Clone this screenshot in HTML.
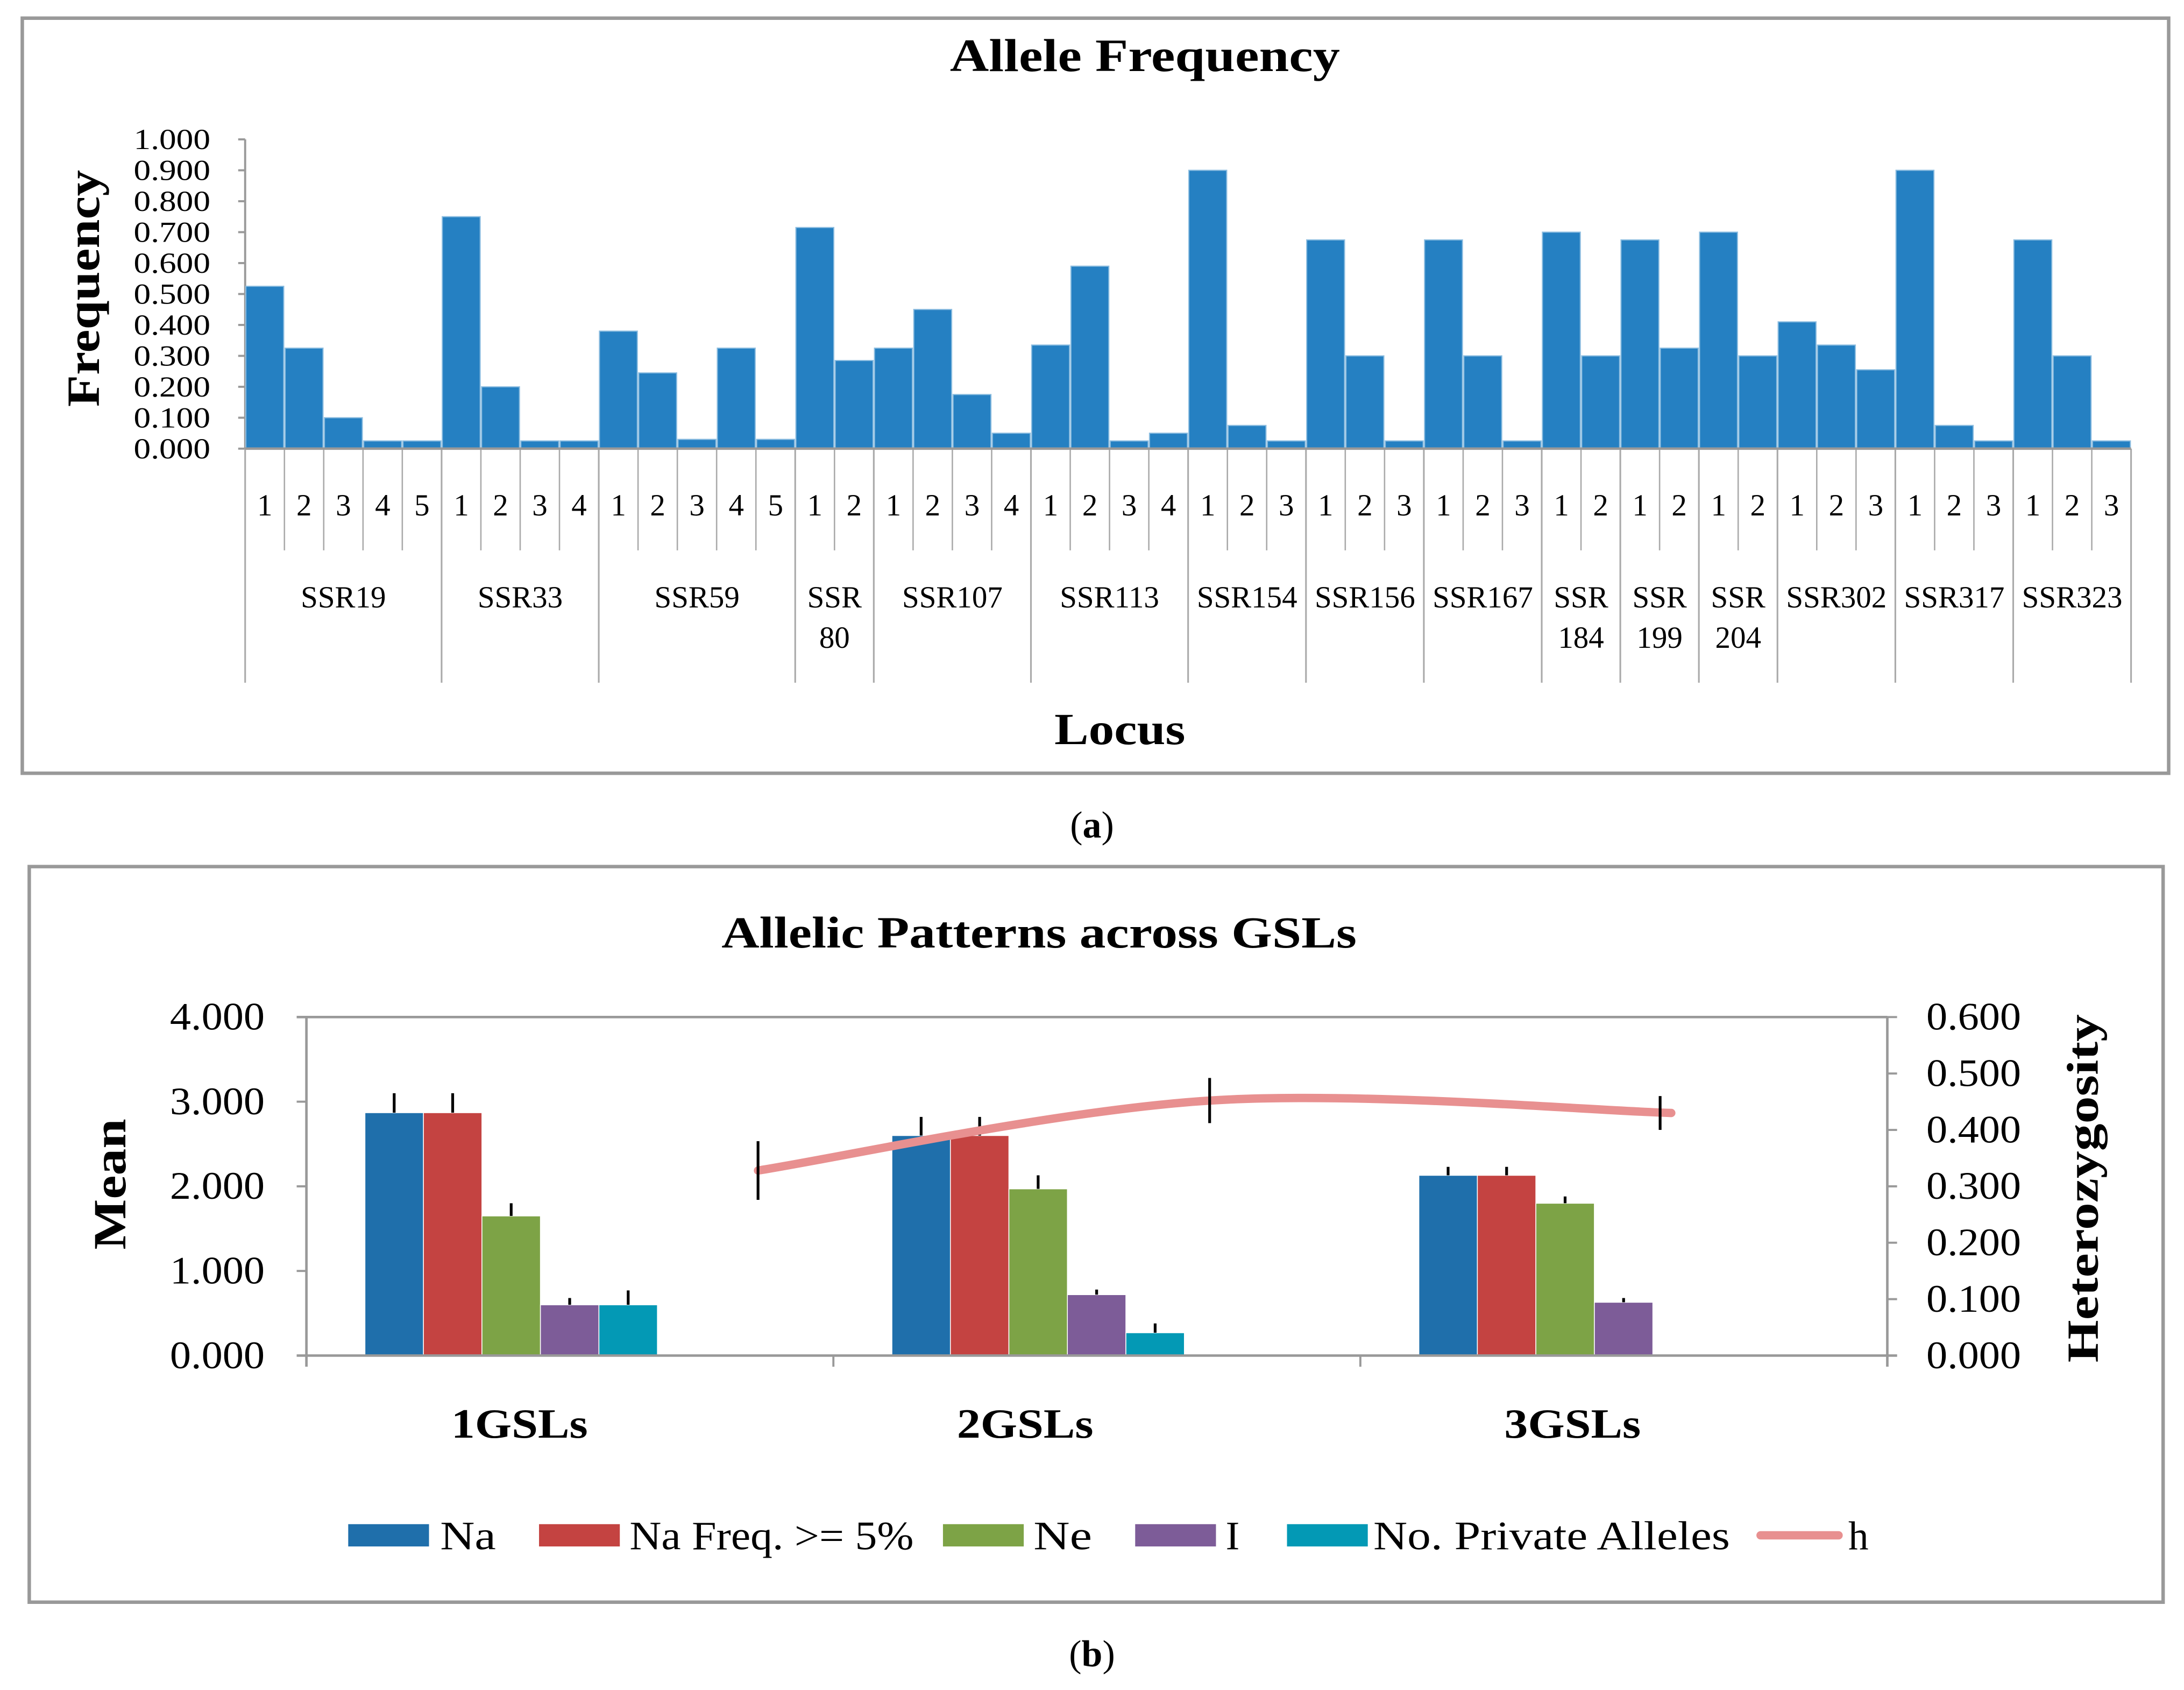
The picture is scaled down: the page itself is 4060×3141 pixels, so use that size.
<!DOCTYPE html>
<html><head><meta charset="utf-8"><style>
html,body{margin:0;padding:0;background:#fff}
svg{display:block;font-family:"Liberation Serif",serif}
</style></head><body>
<svg id="s" width="4060" height="3141" viewBox="0 0 1568 1213" xmlns="http://www.w3.org/2000/svg">
<rect x="16" y="13" width="1541" height="542" fill="#fff" stroke="#999" stroke-width="2.5"/>
<text x="822" y="51" font-size="33" font-weight="bold" text-anchor="middle" textLength="280" lengthAdjust="spacingAndGlyphs">Allele Frequency</text>
<text transform="translate(71,207) rotate(-90)" font-size="33" font-weight="bold" text-anchor="middle" textLength="170" lengthAdjust="spacingAndGlyphs">Frequency</text>
<text x="804" y="534" font-size="32" font-weight="bold" text-anchor="middle" textLength="94" lengthAdjust="spacingAndGlyphs">Locus</text>
<text x="784" y="601" font-size="27" text-anchor="middle">(<tspan font-weight="bold">a</tspan>)</text>
<g id="ga"></g>
<rect x="21" y="622" width="1532" height="528" fill="#fff" stroke="#999" stroke-width="2.5"/>
<text x="746" y="680" font-size="32" font-weight="bold" text-anchor="middle" textLength="456" lengthAdjust="spacingAndGlyphs">Allelic Patterns across GSLs</text>
<text transform="translate(90,850) rotate(-90)" font-size="33" font-weight="bold" text-anchor="middle" textLength="94" lengthAdjust="spacingAndGlyphs">Mean</text>
<text transform="translate(1506,853) rotate(-90)" font-size="32" font-weight="bold" text-anchor="middle" textLength="250" lengthAdjust="spacingAndGlyphs">Heterozygosity</text>
<text x="784" y="1196" font-size="27" text-anchor="middle">(<tspan font-weight="bold">b</tspan>)</text>
<g id="gb"></g>
</svg>
<script>
// ---- Chart A data ----
const lociA = ["SSR19","SSR33","SSR59","SSR80","SSR107","SSR113","SSR154","SSR156","SSR167","SSR184","SSR199","SSR204","SSR302","SSR317","SSR323"];
const freqA = [
 [0.525,0.325,0.100,0.025,0.025],
 [0.750,0.200,0.025,0.025],
 [0.380,0.245,0.030,0.325,0.030],
 [0.715,0.285],
 [0.325,0.450,0.175,0.050],
 [0.335,0.590,0.025,0.050],
 [0.900,0.075,0.025],
 [0.675,0.300,0.025],
 [0.675,0.300,0.025],
 [0.700,0.300],
 [0.675,0.325],
 [0.700,0.300],
 [0.410,0.335,0.255],
 [0.900,0.075,0.025],
 [0.675,0.300,0.025]
];
const yTicksA = ["0.000","0.100","0.200","0.300","0.400","0.500","0.600","0.700","0.800","0.900","1.000"];
// ---- Chart B data ----
const catsB = ["1GSLs","2GSLs","3GSLs"];
const seriesB = ["Na","Na Freq. >= 5%","Ne","I","No. Private Alleles"];
const naB = [2.87,2.60,2.13];
const na5B = [2.87,2.60,2.13];
const neB = [1.65,1.97,1.80];
const iB = [0.60,0.72,0.63];
const paB = [0.60,0.27,0];
const naErr = [0.23,0.22,0.10];
const na5Err = [0.23,0.22,0.10];
const neErr = [0.15,0.16,0.08];
const iErr = [0.08,0.06,0.05];
const paErr = [0.17,0.11,0];
const hB = [0.328,0.452,0.430];
const hErr = [0.052,0.040,0.030];
const hPos = [0.857,1.714,2.59];
const yTicksBL = ["0.000","1.000","2.000","3.000","4.000"];
const yTicksBR = ["0.000","0.100","0.200","0.300","0.400","0.500","0.600"];

const NS="http://www.w3.org/2000/svg";
function mk(p,t,a,txt){const e=document.createElementNS(NS,t);for(const k in a)e.setAttribute(k,a[k]);if(txt!==undefined)e.textContent=txt;p.appendChild(e);return e;}

// ---- Draw A ----
(function(){
 const g=document.getElementById('ga');
 const x0=176,x1=1530,y0=322,yTop=100;
 const n=freqA.reduce((s,a)=>s+a.length,0);
 const bw=(x1-x0)/n;
 const ys=v=>y0-v*(y0-yTop);
 yTicksA.forEach(t=>{const y=ys(parseFloat(t));
  let l=mk(g,'line',{x1:x0-5,x2:x0,y1:y,y2:y,stroke:'#999','stroke-width':1.5});
  
  
  let tx=mk(g,'text',{x:151,y:y+7,'font-size':21,'text-anchor':'end',textLength:55,lengthAdjust:'spacingAndGlyphs'},t);
  
  
 });
 let ax=mk(g,'line',{x1:x0,x2:x0,y1:yTop,y2:y0,stroke:'#999','stroke-width':1.5});
 
 
 let i=0;
 const gx=[x0];
 freqA.forEach((arr,gi)=>{
  const gs=i;
  arr.forEach((v,ai)=>{
   const x=x0+i*bw;
   let r=mk(g,'rect',{x:x+0.5,y:ys(v),width:bw-1,height:y0-ys(v),fill:'#2580C2',stroke:'#8cbde0','stroke-width':0.8});
   
   
   let t=mk(g,'text',{x:x+bw/2,y:370,'font-size':22,'text-anchor':'middle'},String(ai+1));
   
   
   if(ai>0){let s=mk(g,'line',{x1:x,x2:x,y1:y0,y2:395,stroke:'#aaa','stroke-width':1});
    
    }
   i++;
  });
  const gxe=x0+i*bw;gx.push(gxe);
  const cx=(x0+gs*bw+gxe)/2;
  const nm=lociA[gi];
  if(arr.length===2&&["SSR80","SSR184","SSR199","SSR204"].includes(nm)){
   let t1=mk(g,'text',{x:cx,y:436,'font-size':22,'text-anchor':'middle'},"SSR");
   
   
   let t2=mk(g,'text',{x:cx,y:465,'font-size':22,'text-anchor':'middle'},nm.slice(3));
   
   
  } else {
   let t1=mk(g,'text',{x:cx,y:436,'font-size':22,'text-anchor':'middle'},nm);
   
   
  }
 });
 gx.forEach(x=>{let s=mk(g,'line',{x1:x,x2:x,y1:y0,y2:490,stroke:'#aaa','stroke-width':1.2});
  
  });
 let xa=mk(g,'line',{x1:x0,x2:x1,y1:y0,y2:y0,stroke:'#999','stroke-width':1.8});
 
 
})();

// ---- Draw B ----
(function(){
 const g=document.getElementById('gb');
 const x0=220,x1=1355,y0=973,yTop=730;
 const cw=(x1-x0)/catsB.length,bw=42;
 const yl=v=>y0-v/4*(y0-yTop);
 const yr=v=>y0-v/0.6*(y0-yTop);
 let top=mk(g,'line',{x1:213,x2:x1,y1:yTop,y2:yTop,stroke:'#999','stroke-width':1.8});
 
 
 yTicksBL.forEach(t=>{const y=yl(parseFloat(t));
  let l=mk(g,'line',{x1:213,x2:x0,y1:y,y2:y,stroke:'#999','stroke-width':1.5});
  
  
  let tx=mk(g,'text',{x:190,y:y+9,'font-size':28,'text-anchor':'end',textLength:68,lengthAdjust:'spacingAndGlyphs'},t);
  
  
 });
 yTicksBR.forEach(t=>{const y=yr(parseFloat(t));
  let l=mk(g,'line',{x1:x1,x2:x1+7,y1:y,y2:y,stroke:'#999','stroke-width':1.5});
  
  
  let tx=mk(g,'text',{x:1383,y:y+9,'font-size':28,'text-anchor':'start',textLength:68,lengthAdjust:'spacingAndGlyphs'},t);
  
  
 });
 [x0,x1].forEach(x=>{let a=mk(g,'line',{x1:x,x2:x,y1:yTop,y2:y0+8,stroke:'#999','stroke-width':1.8});
  
  });
 const vals=[naB,na5B,neB,iB,paB],errs=[naErr,na5Err,neErr,iErr,paErr];
 const cols=['#1F6FAB','#C44341','#7DA346','#7D5C98','#0399B5'];
 const labX=[373,736,1129];
 catsB.forEach((c,ci)=>{
  const gx=x0+ci*cw+bw;
  vals.forEach((arr,si)=>{
   const v=arr[ci];if(v<=0)return;
   const x=gx+si*bw;
   let r=mk(g,'rect',{x:x,y:yl(v),width:bw,height:y0-yl(v),fill:cols[si],stroke:'#fff','stroke-width':0.6});
   
   
   let e=mk(g,'line',{x1:x+bw/2,x2:x+bw/2,y1:yl(v),y2:yl(v+errs[si][ci]),stroke:'#000','stroke-width':2});
   
   
  });
  let t=mk(g,'text',{x:labX[ci],y:1032,'font-size':30,'font-weight':'bold','text-anchor':'middle',textLength:98,lengthAdjust:'spacingAndGlyphs'},c);
  
  
  if(ci>0){let k=mk(g,'line',{x1:x0+ci*cw,x2:x0+ci*cw,y1:y0,y2:y0+8,stroke:'#999','stroke-width':1.5});
   
   }
 });
 let xa=mk(g,'line',{x1:213,x2:x1+7,y1:y0,y2:y0,stroke:'#999','stroke-width':1.8});
 
 
 const pts=hB.map((v,i)=>[x0+hPos[i]*cw,yr(v)]);
 let d='M'+pts[0][0]+','+pts[0][1];
 for(let i=0;i<pts.length-1;i++){
  const p0=pts[Math.max(0,i-1)],p1=pts[i],p2=pts[i+1],p3=pts[Math.min(pts.length-1,i+2)];
  const c1=[p1[0]+(p2[0]-p0[0])/6,p1[1]+(p2[1]-p0[1])/6],c2=[p2[0]-(p3[0]-p1[0])/6,p2[1]-(p3[1]-p1[1])/6];
  d+=' C'+c1+' '+c2+' '+p2;
 }
 let hl=mk(g,'path',{d:d,fill:'none',stroke:'#E89090','stroke-width':6,'stroke-linecap':'round'});
 
 
 pts.forEach((p,i)=>{
  let e=mk(g,'line',{x1:p[0]-(i==2?8:0),x2:p[0]-(i==2?8:0),y1:yr(hB[i]+hErr[i]),y2:yr(hB[i]-hErr[i]),stroke:'#000','stroke-width':2});
  
  
 });
 const lg=[[250,316,40],[387,452,204],[677,742,42],[815,880,10],[924,986,256]];
 seriesB.forEach((s,i)=>{
  let r=mk(g,'rect',{x:lg[i][0],y:1094,width:58,height:16,fill:cols[i]});
  
  
  let t=mk(g,'text',{x:lg[i][1],y:1112,'font-size':29,textLength:lg[i][2],lengthAdjust:'spacingAndGlyphs'},s);
  
  
 });
 let ll=mk(g,'line',{x1:1264,x2:1320,y1:1102,y2:1102,stroke:'#E89090','stroke-width':6,'stroke-linecap':'round'});
 
 
 let lt=mk(g,'text',{x:1327,y:1112,'font-size':29},'h');
 
 
})();
</script>
</body></html>
